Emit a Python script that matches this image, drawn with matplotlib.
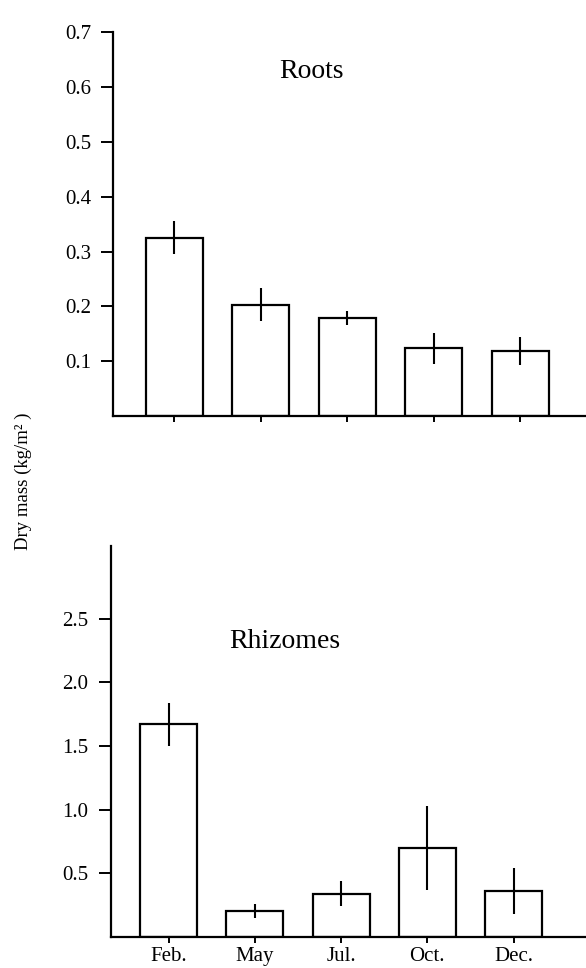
import matplotlib
matplotlib.use("Agg")
import matplotlib.pyplot as plt

plt.rcParams['font.family'] = ['Liberation Serif', 'DejaVu Serif']

months = ["Feb.", "May", "Jul.", "Oct.", "Dec."]

roots = [0.325, 0.203, 0.179, 0.124, 0.119]
roots_err = [0.030, 0.030, 0.012, 0.028, 0.025]

rhizomes = [1.67, 0.205, 0.34, 0.70, 0.36]
rhizomes_err = [0.17, 0.055, 0.10, 0.33, 0.18]

roots_ticks = [0.1, 0.2, 0.3, 0.4, 0.5, 0.6, 0.7]
rhizome_ticks = [0.5, 1.0, 1.5, 2.0, 2.5]

fig = plt.figure(figsize=(5.86, 9.68), dpi=100)

ax1 = fig.add_axes([0.193, 0.570, 0.807, 0.397])
ax2 = fig.add_axes([0.189, 0.032, 0.811, 0.404])


def draw_panel(ax, vals, errs, ticks, ylim, xlim, title, title_pos, show_labels):
    x = range(len(vals))
    ax.bar(x, vals, width=0.66, color="white", edgecolor="black", linewidth=1.6, zorder=2)
    ax.errorbar(x, vals, yerr=errs, fmt="none", ecolor="black", elinewidth=1.5,
                capsize=0, zorder=3)
    ax.set_ylim(*ylim)
    ax.set_xlim(*xlim)
    ax.set_yticks(ticks)
    ax.set_yticklabels([f"{t:.1f}" for t in ticks], fontsize=15)
    ax.set_xticks(list(x))
    if show_labels:
        ax.set_xticklabels(months, fontsize=15)
    else:
        ax.set_xticklabels([])
    ax.spines["top"].set_visible(False)
    ax.spines["right"].set_visible(False)
    ax.spines["left"].set_linewidth(1.6)
    ax.spines["bottom"].set_linewidth(1.6)
    ax.tick_params(axis="y", direction="out", length=9, width=1.4, pad=7)
    ax.tick_params(axis="x", direction="out", length=4, width=1.4, pad=3)
    ax.text(title_pos[0], title_pos[1], title, transform=ax.transAxes,
            fontsize=20, ha="center", va="center")


draw_panel(ax1, roots, roots_err, roots_ticks, (0, 0.7), (-0.71, 4.76),
           "Roots", (0.42, 0.897), False)
draw_panel(ax2, rhizomes, rhizomes_err, rhizome_ticks, (0, 3.07), (-0.67, 4.84),
           "Rhizomes", (0.366, 0.755), True)

fig.text(0.040, 1 - 481 / 968, "Dry mass (kg/m² )", rotation=90,
         ha="center", va="center", fontsize=13.5)

fig.savefig("out.png", dpi=100)
